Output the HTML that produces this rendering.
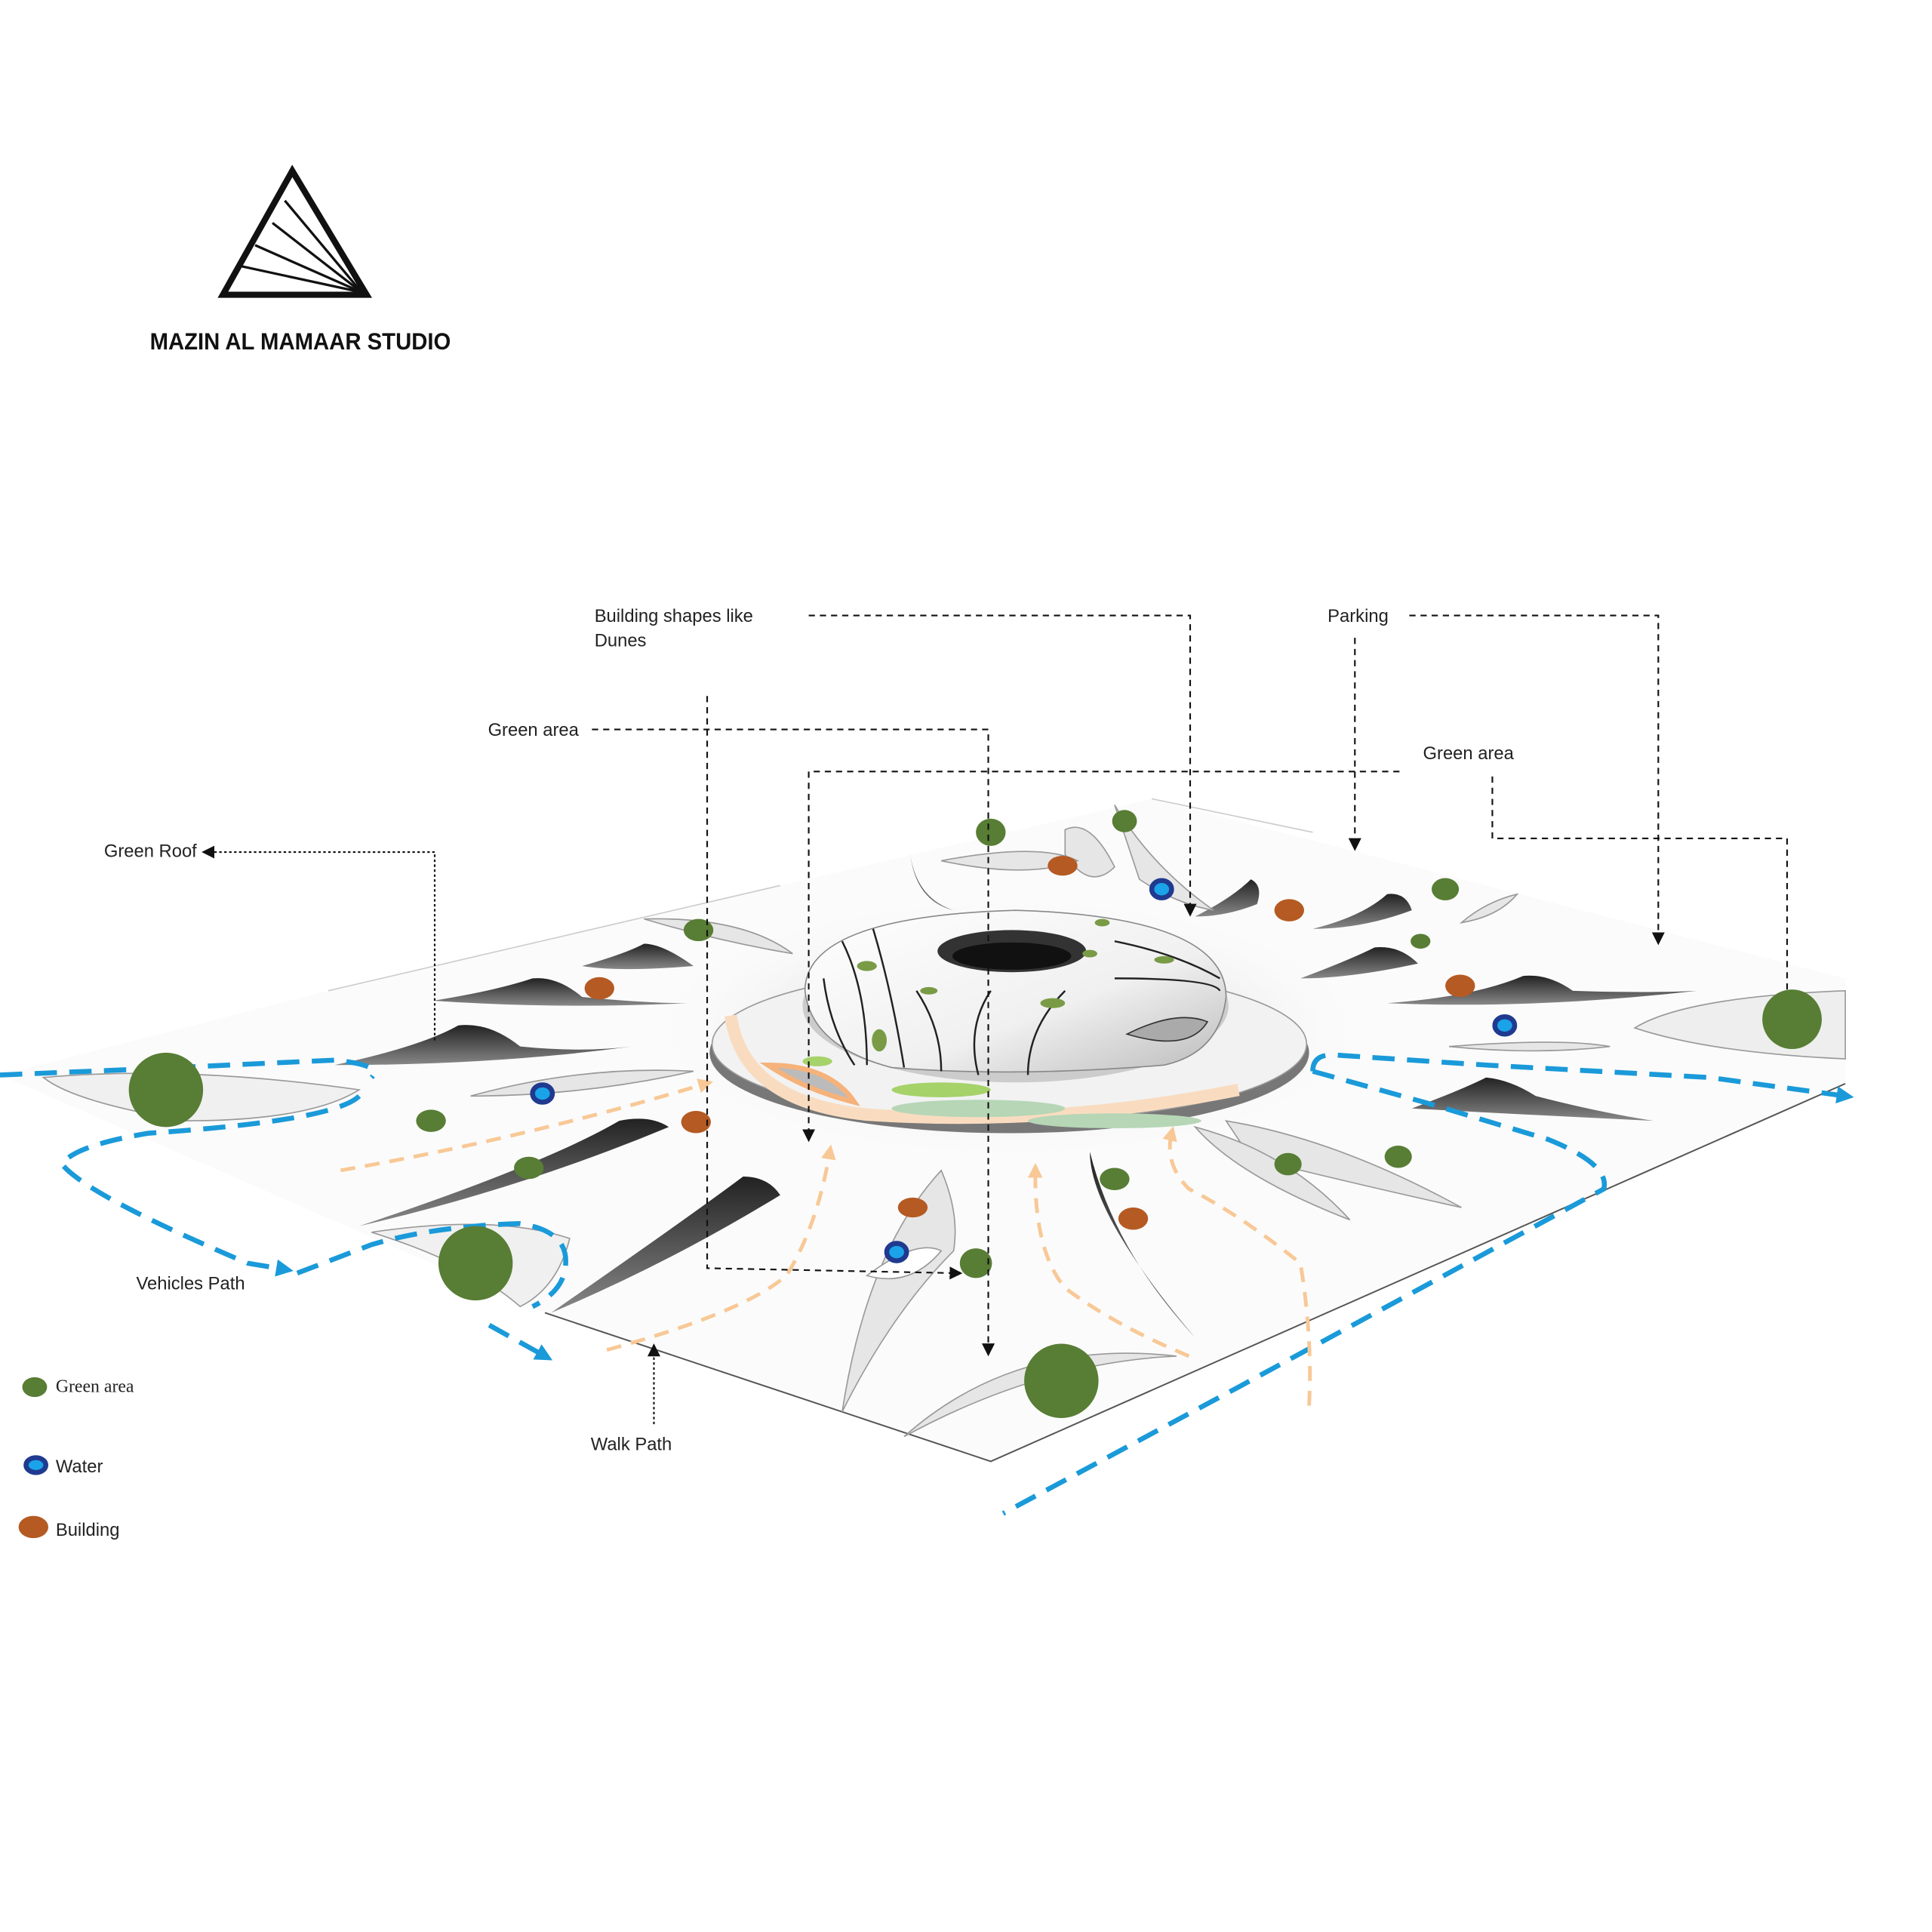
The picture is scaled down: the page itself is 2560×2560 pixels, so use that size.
<!DOCTYPE html>
<html><head><meta charset="utf-8"><style>
html,body{margin:0;padding:0;background:#fff;}
svg{display:block}
text{font-family:"Liberation Sans",sans-serif;fill:#222}
</style></head><body>
<svg width="2560" height="2560" viewBox="0 0 1560 1560" xmlns="http://www.w3.org/2000/svg">
<defs>
<radialGradient id="sh" cx="50%" cy="50%" r="50%"><stop offset="0" stop-color="#999" stop-opacity=".7"/><stop offset="1" stop-color="#fff" stop-opacity="0"/></radialGradient>
<linearGradient id="fin" x1="0" y1="0" x2="0" y2="1"><stop offset="0" stop-color="#222"/><stop offset="1" stop-color="#888"/></linearGradient>
<linearGradient id="dn" x1="0" y1="0" x2="1" y2="1"><stop offset="0" stop-color="#fff"/><stop offset=".6" stop-color="#f0f0f0"/><stop offset="1" stop-color="#bbb"/></linearGradient>
<marker id="ar" markerWidth="8" markerHeight="8" refX="4" refY="4" orient="auto"><path d="M0,0 L8,4 L0,8z" fill="#111"/></marker>
<marker id="ab" markerWidth="3.5" markerHeight="3.5" refX="1.75" refY="1.75" orient="auto"><path d="M0,0 L3.5,1.75 L0,3.5z" fill="#1a9ad9"/></marker>
<marker id="ao" markerWidth="4" markerHeight="4" refX="2" refY="2" orient="auto"><path d="M0,0 L4,2 L0,4z" fill="#f8c896"/></marker>
</defs>
<!-- logo -->
<path d="M236,138 L180,238 L296,238 Z" fill="none" stroke="#111" stroke-width="5"/>
<g stroke="#111" stroke-width="2"><line x1="236" y1="140" x2="293" y2="236"/><line x1="230" y1="162" x2="292" y2="236"/><line x1="220" y1="180" x2="292" y2="236"/><line x1="206" y1="198" x2="292" y2="236"/><line x1="195" y1="215" x2="292" y2="236"/></g>
<text x="121" y="282" font-size="19" font-weight="bold" textLength="243" lengthAdjust="spacingAndGlyphs" style="fill:#111">MAZIN AL MAMAAR STUDIO</text>

<!-- platform -->
<path d="M0,868 L265,800 L630,715 L930,645 L1490,790 L1490,875 L800,1180 L440,1060 Z" fill="#fbfbfb"/>
<path d="M440,1060 L800,1180 L1490,875" fill="none" stroke="#555" stroke-width="1.2"/>
<path d="M265,800 L630,715 M930,645 L1060,672" fill="none" stroke="#ccc" stroke-width="1"/>
<ellipse cx="815" cy="830" rx="300" ry="110" fill="url(#sh)"/>
<g fill="url(#fin)">
<path d="M270,860 Q340,845 370,828 Q395,825 420,845 Q470,850 510,845 Q400,860 270,860Z"/>
<path d="M350,808 Q400,800 430,790 Q450,788 470,805 Q520,810 555,810 Q450,815 350,808Z"/>
<path d="M470,780 Q505,770 520,762 Q535,762 560,780 Q500,785 470,780Z"/>
<path d="M290,990 Q440,940 500,905 Q525,900 540,910 Q420,960 290,990Z"/>
<path d="M445,1060 Q560,980 600,950 Q620,950 630,965 Q540,1020 445,1060Z"/>
<path d="M1140,895 Q1180,880 1200,870 Q1220,872 1240,885 Q1290,898 1335,905 Q1230,900 1140,895Z"/>
<path d="M1120,810 Q1190,805 1230,788 Q1250,786 1270,800 Q1330,802 1370,800 Q1240,815 1120,810Z"/>
<path d="M1050,790 Q1090,775 1110,765 Q1130,763 1145,778 Q1090,790 1050,790Z"/>
<path d="M1060,750 Q1100,740 1120,722 Q1135,720 1140,735 Q1100,750 1060,750Z"/>
<path d="M965,740 Q995,725 1010,710 Q1020,715 1015,730 Q990,740 965,740Z"/>
<path d="M735,690 Q740,725 770,735 Q740,728 735,690Z"/>
<path d="M880,930 Q880,980 965,1080 Q900,1010 880,930Z"/>
</g>
<g fill="#e6e6e6" stroke="#999" stroke-width="1">
<path d="M680,1140 Q700,1010 760,945 Q775,980 770,1010 Q720,1060 680,1140Z"/>
<path d="M700,1030 Q740,1000 760,1010 Q735,1040 700,1030Z" fill="#fff"/>
<path d="M990,905 Q1080,920 1180,975 Q1090,955 1010,935Z"/>
<path d="M965,910 Q1000,950 1090,985 Q1040,930 965,910Z"/>
<path d="M1180,745 Q1200,728 1225,722 Q1210,740 1180,745Z"/>
<path d="M1170,845 Q1260,838 1300,845 Q1240,852 1170,845Z"/>
<path d="M1320,830 Q1360,805 1490,800 L1490,855 Q1380,850 1320,830Z" fill="#eee"/>
<path d="M520,742 Q600,740 640,770 Q580,760 520,742Z"/>
<path d="M380,885 Q470,860 560,865 Q470,885 380,885Z"/>
<path d="M35,870 Q150,860 290,880 Q250,905 150,905 Q60,890 35,870Z" fill="#f0f0f0"/>
<path d="M300,995 Q400,980 460,1000 Q450,1040 420,1055 Q380,1020 300,995Z" fill="#f0f0f0"/>
<path d="M730,1160 Q820,1080 950,1095 Q840,1100 730,1160Z"/>
<path d="M860,670 Q880,660 900,700 Q880,720 860,690Z"/>
<path d="M760,695 Q830,710 870,695 Q840,680 760,695Z"/>
<path d="M900,650 Q930,700 980,735 Q950,730 920,710Z"/>
</g>
<ellipse cx="815" cy="850" rx="242" ry="65" fill="#777"/>
<ellipse cx="815" cy="843" rx="240" ry="62" fill="#f2f2f2" stroke="#999"/>
<path d="M590,820 Q600,890 700,900 Q850,910 1000,880" fill="none" stroke="#f9dcc0" stroke-width="10"/>
<path d="M620,860 Q650,880 690,890 Q670,860 620,860Z" fill="#bbb" stroke="#f5b27a" stroke-width="4"/>
<ellipse cx="760" cy="880" rx="40" ry="6" fill="#a6d26a"/>
<ellipse cx="660" cy="857" rx="12" ry="4" fill="#a6d26a"/>
<ellipse cx="790" cy="895" rx="70" ry="7" fill="#b6d6b6"/>
<ellipse cx="900" cy="905" rx="70" ry="6" fill="#b6d6b6"/>
<ellipse cx="820" cy="812" rx="172" ry="62" fill="#ccc"/>
<path d="M650,800 Q650,740 820,735 Q990,740 990,805 Q985,850 940,860 Q820,870 720,862 Q655,845 650,800Z" fill="url(#dn)" stroke="#888"/>
<ellipse cx="817" cy="768" rx="60" ry="17" fill="#333"/>
<ellipse cx="817" cy="772" rx="48" ry="11" fill="#111"/>
<g fill="none" stroke="#222" stroke-width="1.5">
<path d="M680,760 Q700,800 700,860"/><path d="M705,750 Q720,800 730,862"/><path d="M740,800 Q760,830 760,865"/>
<path d="M800,800 Q780,830 790,868"/><path d="M860,800 Q830,830 830,868"/><path d="M900,790 Q980,790 985,800"/>
<path d="M900,760 Q950,770 985,790"/><path d="M665,790 Q670,830 690,860"/>
</g>
<g fill="#7a9b46"><ellipse cx="700" cy="780" rx="8" ry="4"/><ellipse cx="750" cy="800" rx="7" ry="3"/><ellipse cx="850" cy="810" rx="10" ry="4"/><ellipse cx="880" cy="770" rx="6" ry="3"/><ellipse cx="940" cy="775" rx="8" ry="3"/><ellipse cx="710" cy="840" rx="6" ry="9"/><ellipse cx="890" cy="745" rx="6" ry="3"/></g>
<path d="M910,835 Q950,815 975,825 Q960,850 910,835Z" fill="#aaa" stroke="#333"/>

<g fill="none" stroke="#1a9ad9" stroke-width="4" stroke-dasharray="18,10">
<path d="M0,868 L120,863 L270,856 Q310,860 300,870"/>
<path d="M290,885 Q270,905 120,915 Q60,925 50,940 Q70,965 200,1020 L230,1025" marker-end="url(#ab)"/>
<path d="M240,1028 L300,1005 Q350,990 420,988 Q465,995 455,1030 Q450,1045 430,1055"/>
<path d="M395,1070 L440,1095" marker-end="url(#ab)"/>
<path d="M1060,865 Q1060,850 1080,852 L1200,860 L1380,870 L1490,885" marker-end="url(#ab)"/>
<path d="M1060,865 L1150,890 L1250,920 Q1300,940 1295,960 L1000,1120 L810,1222"/>
</g>
<g fill="none" stroke="#f8c896" stroke-width="3" stroke-dasharray="12,8">
<path d="M275,945 Q420,920 570,875" marker-end="url(#ao)"/>
<path d="M490,1090 Q600,1060 635,1030 Q660,990 670,930" marker-end="url(#ao)"/>
<path d="M960,1095 Q900,1070 860,1040 Q835,1010 836,945" marker-end="url(#ao)"/>
<path d="M1057,1135 Q1060,1080 1050,1020 Q1000,980 960,960 Q940,940 946,915" marker-end="url(#ao)"/>
</g>

<g fill="#587d35">
<circle cx="134" cy="880" r="30"/><circle cx="384" cy="1020" r="30"/><circle cx="857" cy="1115" r="30"/><circle cx="1447" cy="823" r="24"/>
<ellipse cx="800" cy="672" rx="12" ry="11"/><ellipse cx="908" cy="663" rx="10" ry="9"/><ellipse cx="564" cy="751" rx="12" ry="9"/>
<ellipse cx="348" cy="905" rx="12" ry="9"/><ellipse cx="427" cy="943" rx="12" ry="9"/><ellipse cx="788" cy="1020" rx="13" ry="12"/>
<ellipse cx="900" cy="952" rx="12" ry="9"/><ellipse cx="1040" cy="940" rx="11" ry="9"/><ellipse cx="1129" cy="934" rx="11" ry="9"/>
<ellipse cx="1167" cy="718" rx="11" ry="9"/><ellipse cx="1147" cy="760" rx="8" ry="6"/>
<ellipse cx="28" cy="1120" rx="10" ry="8"/>
</g>
<g fill="#b55a23">
<ellipse cx="484" cy="798" rx="12" ry="9"/><ellipse cx="562" cy="906" rx="12" ry="9"/><ellipse cx="858" cy="699" rx="12" ry="8"/>
<ellipse cx="1041" cy="735" rx="12" ry="9"/><ellipse cx="1179" cy="796" rx="12" ry="9"/><ellipse cx="737" cy="975" rx="12" ry="8"/>
<ellipse cx="915" cy="984" rx="12" ry="9"/><ellipse cx="27" cy="1233" rx="12" ry="9"/>
</g>
<g fill="#1aa3e8" stroke="#1f3a8f" stroke-width="4">
<ellipse cx="438" cy="883" rx="8" ry="7"/><ellipse cx="938" cy="718" rx="8" ry="7"/><ellipse cx="1215" cy="828" rx="8" ry="7"/>
<ellipse cx="724" cy="1011" rx="8" ry="7"/><ellipse cx="29" cy="1183" rx="8" ry="6"/>
</g>

<g fill="none" stroke="#111" stroke-width="1.3" stroke-dasharray="5,4">
<path d="M653,497 L961,497 L961,735" marker-end="url(#ar)"/>
<path d="M1138,497 L1339,497 L1339,758" marker-end="url(#ar)"/>
<path d="M1094,515 L1094,682" marker-end="url(#ar)"/>
<path d="M478,589 L798,589 L798,1090" marker-end="url(#ar)"/>
<path d="M571,562 L571,1024 L772,1028" marker-end="url(#ar)"/>
<path d="M1130,623 L653,623 L653,917" marker-end="url(#ar)"/>
<path d="M1205,627 L1205,677 L1443,677 L1443,800"/>
<path d="M351,840 L351,688 L168,688" marker-end="url(#ar)" stroke-dasharray="2,2"/>
<path d="M528,1150 L528,1090" marker-end="url(#ar)" stroke-dasharray="2,2"/>
</g>

<g font-size="14.5">
<text x="480" y="502">Building shapes like</text><text x="480" y="522">Dunes</text>
<text x="1072" y="502">Parking</text>
<text x="394" y="594">Green area</text>
<text x="1149" y="613">Green area</text>
<text x="84" y="692">Green Roof</text>
<text x="110" y="1041">Vehicles Path</text>
<text x="477" y="1171">Walk Path</text>
<text x="45" y="1124" style="font-family:'Liberation Serif',serif">Green area</text>
<text x="45" y="1189">Water</text>
<text x="45" y="1240">Building</text>
</g>
</svg>
</body></html>
